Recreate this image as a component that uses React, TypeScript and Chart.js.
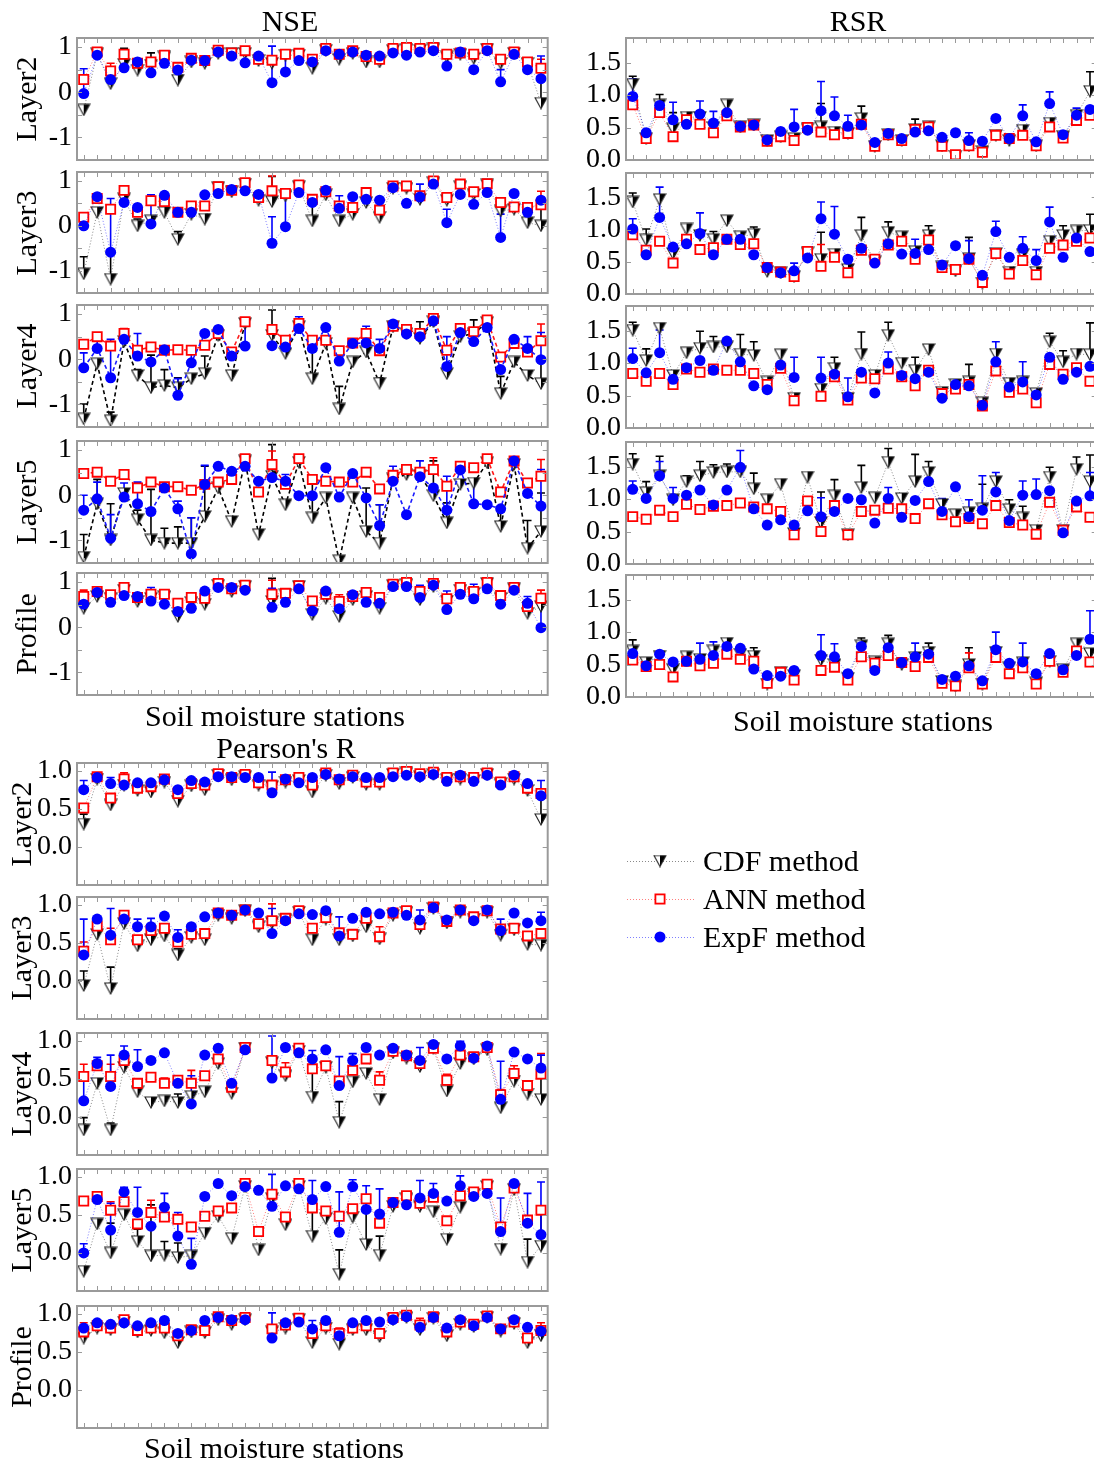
import React, { useEffect, useRef } from "react";
import { Chart, registerables } from "chart.js";
Chart.register(...registerables);

const FONT = "'Liberation Serif', 'Times New Roman', serif";
const STATION_COUNT = 35;

type V = number | null;
type Err = Record<number, number>;

// ---------------- NSE ----------------
const nseL2Cdf: V[] = [
  -0.39, 0.85, 0.19, 0.62, 0.49, 0.6, 0.78,
  0.27, 0.67, 0.64, 0.86, 0.86, 0.86, 0.7,
  0.64, 0.82, 0.82, 0.53, 0.93, 0.73, 0.86,
  0.67, 0.67, 0.92, 0.95, 0.93, 0.96, 0.78,
  0.84, 0.75, 0.95, 0.64, 0.86, 0.64, -0.24];
const nseL2Ann: V[] = [
  0.28, 0.89, 0.47, 0.84, 0.64, 0.67, 0.82,
  0.55, 0.75, 0.7, 0.93, 0.87, 0.92, 0.73,
  0.71, 0.84, 0.86, 0.73, 0.97, 0.84, 0.92,
  0.79, 0.73, 0.97, 0.99, 0.97, 0.99, 0.84,
  0.87, 0.84, 0.97, 0.73, 0.89, 0.67, 0.53];
const nseL2Exp: V[] = [
  -0.03, 0.82, 0.28, 0.54, 0.67, 0.43, 0.64,
  0.49, 0.71, 0.7, 0.89, 0.8, 0.65, 0.8,
  0.21, 0.45, 0.7, 0.67, 0.92, 0.84, 0.89,
  0.82, 0.8, 0.87, 0.82, 0.89, 0.92, 0.58,
  0.89, 0.5, 0.92, 0.23, 0.84, 0.5, 0.3];
const nseL2CdfErr: Err = { 3: 0.35, 5: 0.27, 34: 0.5 };
const nseL2AnnErr: Err = { 2: 0.17, 12: 0.08, 34: 0.2 };
const nseL2ExpErr: Err = { 0: 0.55, 5: 0.27, 14: 0.81, 15: 0.41, 31: 0.27, 34: 0.5 };

const nseL3Cdf: V[] = [
  -1.07, 0.3, -1.19, 0.6, 0.0, 0.11, 0.3,
  -0.3, 0.26, 0.15, 0.85, 0.76, 0.93, 0.57,
  0.54, 0.67, 0.87, 0.11, 0.69, 0.11, 0.26,
  0.52, 0.19, 0.84, 0.84, 0.59, 0.96, 0.57,
  0.87, 0.7, 0.91, 0.33, 0.37, 0.07, 0.0];
const nseL3Ann: V[] = [
  0.19, 0.61, 0.37, 0.79, 0.3, 0.56, 0.54,
  0.3, 0.44, 0.44, 0.87, 0.79, 0.96, 0.63,
  0.78, 0.72, 0.91, 0.59, 0.76, 0.44, 0.41,
  0.74, 0.35, 0.89, 0.89, 0.67, 1.0, 0.63,
  0.93, 0.76, 0.94, 0.52, 0.42, 0.41, 0.47];
const nseL3Exp: V[] = [
  0.0, 0.65, -0.59, 0.52, 0.41, 0.04, 0.68,
  0.3, 0.3, 0.69, 0.72, 0.81, 0.78, 0.7,
  -0.39, -0.02, 0.74, 0.52, 0.79, 0.39, 0.65,
  0.59, 0.57, 0.85, 0.5, 0.64, 0.93, 0.07,
  0.7, 0.48, 0.74, -0.26, 0.72, 0.3, 0.57];
const nseL3CdfErr: Err = { 0: 0.38, 2: 0.6, 4: 0.15, 7: 0.17, 14: 0.56, 17: 0.52, 34: 0.5 };
const nseL3AnnErr: Err = { 14: 0.33, 34: 0.3 };
const nseL3ExpErr: Err = { 2: 1.2, 5: 0.65, 14: 0.59, 15: 0.8, 19: 0.28, 25: 0.29, 27: 0.3, 31: 0.52 };

const nseL4Cdf: V[] = [
  -1.32, -0.1, -1.36, 0.39, -0.36, -0.63, -0.58,
  -0.63, -0.43, -0.32, 0.53, -0.36, 0.79, null,
  0.53, 0.13, 0.72, -0.43, 0.35, -1.1, -0.06,
  0.16, -0.53, 0.72, 0.57, 0.46, 0.83, -0.32,
  0.5, 0.57, 0.81, -0.76, -0.06, -0.36, -0.54];
const nseL4Ann: V[] = [
  0.33, 0.5, 0.29, 0.57, 0.2, 0.27, 0.2,
  0.21, 0.2, 0.31, 0.57, 0.16, 0.83, null,
  0.66, 0.42, 0.79, 0.42, 0.42, 0.19, 0.36,
  0.57, 0.19, 0.73, 0.66, 0.57, 0.9, 0.2,
  0.68, 0.61, 0.87, 0.05, 0.35, 0.16, 0.41];
const nseL4Exp: V[] = [
  -0.19, 0.24, -0.41, 0.44, 0.07, -0.06, 0.21,
  -0.8, -0.08, 0.57, 0.66, 0.07, 0.29, null,
  0.3, 0.27, 0.68, 0.24, 0.7, -0.04, 0.35,
  0.36, 0.24, 0.78, 0.56, 0.5, 0.85, -0.16,
  0.59, 0.39, 0.7, -0.23, 0.44, 0.24, -0.01];
const nseL4CdfErr: Err = { 0: 0.33, 2: 0.19, 4: 0.13, 5: 0.72, 6: 0.35, 7: 0.22, 9: 0.39, 14: 0.56, 17: 0.6, 19: 0.5, 22: 0.12, 25: 0.37, 29: 0.3, 31: 0.38, 34: 0.55 };
const nseL4AnnErr: Err = { 3: 0.11, 34: 0.37 };
const nseL4ExpErr: Err = { 0: 0.33, 1: 0.33, 2: 0.85, 4: 0.5, 7: 0.37, 8: 0.32, 12: 0.54, 16: 0.26, 21: 0.37, 22: 0.2, 27: 0.66, 33: 0.26, 34: 0.6 };

const nseL5Cdf: V[] = [
  -1.37, -0.19, -0.99, 0.04, -0.54, -0.99, -1.06,
  -1.06, -1.06, -0.47, 0.16, -0.58, 0.76, -0.87,
  0.42, -0.21, 0.73, -0.5, -0.06, -1.45, -0.06,
  -0.8, -1.06, 0.36, 0.46, 0.44, -0.01, -0.61,
  0.24, 0.27, 0.72, -0.69, 0.68, -1.17, -0.8];
const nseL5Ann: V[] = [
  0.48, 0.51, 0.31, 0.46, 0.16, 0.29, 0.19,
  0.19, 0.11, 0.24, 0.29, 0.35, 0.81, 0.07,
  0.68, 0.24, 0.81, 0.35, 0.31, 0.29, 0.29,
  0.51, 0.14, 0.44, 0.57, 0.51, 0.57, 0.2,
  0.64, 0.61, 0.81, 0.07, 0.76, 0.27, 0.42];
const nseL5Exp: V[] = [
  -0.33, -0.08, -0.95, -0.04, -0.19, -0.36, 0.16,
  -0.3, -1.3, 0.24, 0.64, 0.53, 0.64, 0.31,
  0.39, 0.31, -0.01, -0.01, 0.61, -0.04, 0.48,
  -0.06, -0.67, 0.31, -0.43, 0.41, 0.16, -0.33,
  0.56, -0.19, -0.21, -0.3, 0.76, 0.04, -0.24];
const nseL5CdfErr: Err = { 0: 0.5, 1: 0.54, 2: 0.8, 4: 0.21, 5: 1.12, 6: 0.33, 7: 0.36, 8: 0.56, 9: 1.11, 14: 0.7, 17: 0.81, 21: 0.96, 22: 0.85, 26: 0.77, 27: 0.44, 31: 0.39, 33: 0.61, 34: 0.85 };
const nseL5AnnErr: Err = { 14: 0.3, 26: 0.26, 34: 0.37 };
const nseL5ExpErr: Err = { 0: 0.33, 1: 0.37, 2: 0.52, 3: 0.31, 4: 0.48, 7: 0.17, 8: 0.8, 9: 0.42, 15: 0.15, 22: 0.46, 23: 0.33, 25: 0.35, 27: 0.75, 29: 0.5, 34: 0.81 };

const nsePrCdf: V[] = [
  0.42, 0.68, 0.64, 0.82, 0.57, 0.64, 0.68,
  0.24, 0.55, 0.51, 0.93, 0.79, 0.9, null,
  0.57, 0.72, 0.9, 0.28, 0.64, 0.24, 0.61,
  0.68, 0.42, 0.92, 0.95, 0.61, 0.9, 0.58,
  0.82, 0.75, 0.97, 0.64, 0.85, 0.31, 0.46];
const nsePrAnn: V[] = [
  0.68, 0.79, 0.72, 0.88, 0.66, 0.73, 0.73,
  0.53, 0.66, 0.64, 0.97, 0.85, 0.93, null,
  0.73, 0.75, 0.92, 0.58, 0.73, 0.57, 0.68,
  0.77, 0.66, 0.95, 0.99, 0.79, 0.97, 0.63,
  0.88, 0.79, 0.99, 0.7, 0.88, 0.46, 0.64];
const nsePrExp: V[] = [
  0.51, 0.77, 0.55, 0.7, 0.68, 0.58, 0.51,
  0.35, 0.42, 0.8, 0.88, 0.88, 0.82, null,
  0.44, 0.55, 0.85, 0.36, 0.8, 0.41, 0.72,
  0.55, 0.53, 0.9, 0.9, 0.66, 0.93, 0.39,
  0.73, 0.63, 0.85, 0.51, 0.82, 0.53, -0.01];
const nsePrCdfErr: Err = { 14: 0.51 };
const nsePrAnnErr: Err = { 0: 0.14, 14: 0.31, 19: 0.15, 34: 0.18 };
const nsePrExpErr: Err = { 5: 0.3, 14: 0.42, 21: 0.31, 25: 0.27, 27: 0.41, 29: 0.32, 33: 0.15, 34: 0.65 };

// ---------------- RSR ----------------
const rsrL2Cdf: V[] = [
  1.17, 0.33, 0.85, 0.48, 0.66, 0.66, 0.5,
  0.85, 0.51, 0.54, 0.3, 0.36, 0.33, 0.48,
  0.51, 0.43, 0.41, 0.64, 0.21, 0.39, 0.3,
  0.47, 0.51, 0.22, 0.06, 0.22, 0.13, 0.38,
  0.3, 0.46, 0.22, 0.57, 0.36, 0.69, 1.06];
const rsrL2Ann: V[] = [
  0.85, 0.33, 0.73, 0.36, 0.62, 0.55, 0.42,
  0.68, 0.51, 0.54, 0.29, 0.36, 0.3, 0.5,
  0.43, 0.39, 0.41, 0.55, 0.21, 0.39, 0.3,
  0.47, 0.51, 0.21, 0.08, 0.22, 0.12, 0.38,
  0.33, 0.38, 0.22, 0.51, 0.34, 0.61, 0.69];
const rsrL2Exp: V[] = [
  0.98, 0.42, 0.84, 0.62, 0.55, 0.71, 0.57,
  0.73, 0.52, 0.54, 0.31, 0.44, 0.51, 0.46,
  0.76, 0.68, 0.52, 0.54, 0.27, 0.41, 0.33,
  0.43, 0.45, 0.35, 0.42, 0.3, 0.29, 0.64,
  0.33, 0.68, 0.28, 0.87, 0.39, 0.69, 0.78];
const rsrL2CdfErr: Err = { 0: 0.12, 2: 0.16, 3: 0.25, 14: 0.36, 17: 0.19, 21: 0.16, 29: 0.05, 34: 0.3 };
const rsrL2AnnErr: Err = {};
const rsrL2ExpErr: Err = { 0: 0.27, 3: 0.27, 5: 0.2, 6: 0.18, 12: 0.27, 14: 0.45, 15: 0.29, 16: 0.17, 25: 0.12, 29: 0.17, 31: 0.18, 33: 0.11 };

const rsrL3Cdf: V[] = [
  1.43, 0.84, 1.47, 0.63, 1.01, 0.91, 0.85,
  1.14, 0.89, 0.93, 0.35, 0.33, 0.27, 0.64,
  0.54, 0.62, 0.38, 0.91, 0.5, 0.96, 0.89,
  0.66, 0.91, 0.42, 0.36, 0.55, 0.17, 0.63,
  0.34, 0.61, 0.34, 0.82, 0.91, 0.98, 0.99];
const rsrL3Ann: V[] = [
  0.92, 0.68, 0.82, 0.48, 0.85, 0.69, 0.72,
  0.85, 0.77, 0.78, 0.41, 0.34, 0.27, 0.66,
  0.43, 0.57, 0.33, 0.68, 0.54, 0.76, 0.82,
  0.54, 0.84, 0.41, 0.38, 0.54, 0.18, 0.63,
  0.31, 0.52, 0.3, 0.71, 0.76, 0.82, 0.87];
const rsrL3Exp: V[] = [
  1.01, 0.61, 1.19, 0.73, 0.78, 0.94, 0.61,
  0.85, 0.85, 0.61, 0.41, 0.33, 0.36, 0.56,
  1.17, 0.93, 0.54, 0.71, 0.48, 0.78, 0.62,
  0.63, 0.69, 0.45, 0.75, 0.55, 0.29, 0.97,
  0.57, 0.71, 0.52, 1.12, 0.57, 0.87, 0.66];
const rsrL3CdfErr: Err = { 0: 0.14, 1: 0.17, 6: 0.12, 9: 0.11, 14: 0.42, 17: 0.28, 19: 0.16, 22: 0.15, 25: 0.33, 32: 0.15, 34: 0.25 };
const rsrL3AnnErr: Err = { 14: 0.34, 32: 0.22 };
const rsrL3ExpErr: Err = { 0: 0.16, 2: 0.47, 5: 0.32, 12: 0.12, 14: 0.26, 15: 0.43, 21: 0.22, 25: 0.28, 27: 0.16, 29: 0.18, 30: 0.17, 31: 0.23 };

const rsrL4Cdf: V[] = [
  1.51, 1.04, 1.54, 0.81, 1.16, 1.23, 1.25,
  1.25, 1.14, 1.12, 0.71, 1.13, 0.46, null,
  0.6, 0.92, 0.46, 1.14, 0.81, 1.43, 1.0,
  0.89, 1.21, 0.55, 0.67, 0.71, 0.39, 1.14,
  0.69, 0.71, 0.53, 1.33, 1.02, 1.14, 1.13];
const rsrL4Ann: V[] = [
  0.84, 0.72, 0.84, 0.67, 0.91, 0.86, 0.91,
  0.89, 0.89, 0.84, 0.67, 0.92, 0.42, null,
  0.49, 0.79, 0.43, 0.77, 0.76, 0.91, 0.79,
  0.65, 0.89, 0.53, 0.6, 0.67, 0.34, 0.88,
  0.55, 0.6, 0.39, 0.98, 0.83, 0.93, 0.72];
const rsrL4Exp: V[] = [
  1.07, 0.85, 1.16, 0.75, 0.93, 1.04, 0.89,
  1.34, 1.02, 0.65, 0.59, 0.97, 0.78, null,
  0.77, 0.83, 0.48, 0.86, 0.54, 1.0, 0.81,
  0.76, 0.86, 0.46, 0.67, 0.65, 0.35, 1.02,
  0.63, 0.71, 0.51, 1.09, 0.75, 0.86, 0.95];
const rsrL4CdfErr: Err = { 0: 0.12, 1: 0.18, 5: 0.26, 6: 0.16, 8: 0.3, 9: 0.21, 15: 0.17, 17: 0.34, 19: 0.2, 21: 0.2, 25: 0.27, 31: 0.13, 32: 0.17, 34: 0.49 };
const rsrL4AnnErr: Err = {};
const rsrL4ExpErr: Err = { 0: 0.16, 2: 0.35, 12: 0.31, 14: 0.32, 16: 0.29, 19: 0.17, 27: 0.31, 29: 0.31 };

const rsrL5Cdf: V[] = [
  1.54, 1.1, 1.36, 0.99, 1.27, 1.36, 1.41,
  1.42, 1.42, 1.16, 0.99, 1.23, 0.47, 1.34,
  0.64, 1.05, 0.45, 1.18, 1.02, 1.57, 1.01,
  1.27, 1.41, 0.92, 0.76, 0.79, 0.85, 1.27,
  0.84, 0.71, 0.52, 1.34, 0.52, 1.46, 1.27];
const rsrL5Ann: V[] = [
  0.73, 0.69, 0.83, 0.73, 0.92, 0.84, 0.89,
  0.9, 0.94, 0.88, 0.85, 0.81, 0.45, 0.97,
  0.5, 0.9, 0.45, 0.81, 0.83, 0.86, 0.85,
  0.7, 0.93, 0.76, 0.65, 0.7, 0.62, 0.9,
  0.64, 0.6, 0.46, 0.95, 0.52, 0.88, 0.72];
const rsrL5Exp: V[] = [
  1.15, 1.01, 1.36, 1.01, 1.06, 1.14, 0.91,
  1.14, 1.49, 0.85, 0.6, 0.68, 0.6, 0.82,
  0.73, 0.81, 1.01, 0.99, 0.63, 1.01, 0.72,
  0.98, 1.27, 0.81, 1.19, 0.73, 0.83, 1.11,
  0.67, 1.06, 1.07, 1.13, 0.48, 0.97, 1.05];
const rsrL5CdfErr: Err = { 0: 0.16, 1: 0.17, 2: 0.3, 4: 0.09, 5: 0.22, 6: 0.12, 7: 0.12, 9: 0.24, 14: 0.47, 15: 0.25, 17: 0.34, 19: 0.21, 21: 0.42, 22: 0.17, 26: 0.38, 28: 0.15, 29: 0.18, 31: 0.15, 33: 0.19, 34: 0.41 };
const rsrL5AnnErr: Err = {};
const rsrL5ExpErr: Err = { 0: 0.13, 2: 0.22, 3: 0.17, 8: 0.26, 14: 0.29, 19: 0.17, 23: 0.2, 25: 0.26, 26: 0.53, 27: 0.3, 29: 0.22, 30: 0.24, 34: 0.36 };

const rsrPrCdf: V[] = [
  0.71, 0.53, 0.63, 0.42, 0.62, 0.58, 0.71,
  0.83, 0.66, 0.63, 0.2, 0.38, 0.33, null,
  0.57, 0.5, 0.29, 0.79, 0.54, 0.82, 0.5,
  0.61, 0.69, 0.24, 0.17, 0.5, 0.2, 0.69,
  0.45, 0.53, 0.22, 0.55, 0.42, 0.82, 0.67];
const rsrPrAnn: V[] = [
  0.57, 0.47, 0.5, 0.31, 0.55, 0.48, 0.52,
  0.66, 0.58, 0.55, 0.21, 0.38, 0.26, null,
  0.41, 0.46, 0.26, 0.62, 0.52, 0.64, 0.53,
  0.47, 0.61, 0.21, 0.17, 0.45, 0.2, 0.61,
  0.36, 0.45, 0.2, 0.55, 0.38, 0.71, 0.54];
const rsrPrExp: V[] = [
  0.67, 0.48, 0.66, 0.54, 0.55, 0.58, 0.64,
  0.78, 0.75, 0.43, 0.33, 0.32, 0.41, null,
  0.64, 0.62, 0.36, 0.78, 0.41, 0.76, 0.53,
  0.62, 0.66, 0.27, 0.32, 0.48, 0.25, 0.73,
  0.52, 0.54, 0.36, 0.67, 0.42, 0.64, 0.89];
const rsrPrCdfErr: Err = { 0: 0.17, 9: 0.13, 17: 0.12, 19: 0.13, 22: 0.14, 25: 0.26 };
const rsrPrAnnErr: Err = { 25: 0.23 };
const rsrPrExpErr: Err = { 5: 0.25, 6: 0.21, 14: 0.32, 15: 0.2, 21: 0.21, 27: 0.27, 29: 0.29, 34: 0.44 };

// ---------------- Pearson's R ----------------
const rL2Cdf: V[] = [
  0.3, 0.89, 0.55, 0.81, 0.74, 0.72, 0.85,
  0.6, 0.8, 0.75, 0.94, 0.88, 0.92, 0.81,
  0.79, 0.85, 0.87, 0.72, 0.94, 0.83, 0.91,
  0.82, 0.82, 0.95, 0.97, 0.92, 0.95, 0.88,
  0.89, 0.87, 0.95, 0.83, 0.89, 0.74, 0.36];
const rL2Ann: V[] = [
  0.51, 0.92, 0.64, 0.89, 0.77, 0.79, 0.89,
  0.7, 0.83, 0.81, 0.96, 0.91, 0.95, 0.84,
  0.81, 0.88, 0.91, 0.81, 0.97, 0.88, 0.94,
  0.85, 0.85, 0.97, 0.99, 0.96, 0.98, 0.91,
  0.92, 0.91, 0.97, 0.85, 0.92, 0.77, 0.7];
const rL2Exp: V[] = [
  0.75, 0.91, 0.83, 0.81, 0.84, 0.84, 0.88,
  0.75, 0.87, 0.85, 0.92, 0.92, 0.91, 0.91,
  0.71, 0.89, 0.84, 0.91, 0.95, 0.89, 0.92,
  0.91, 0.91, 0.92, 0.94, 0.92, 0.95, 0.86,
  0.94, 0.86, 0.94, 0.81, 0.94, 0.83, 0.67];
const rL2CdfErr: Err = { 0: 0.13, 34: 0.36 };
const rL2AnnErr: Err = { 3: 0.08 };
const rL2ExpErr: Err = { 0: 0.12, 2: 0.08, 14: 0.27, 34: 0.2 };

const rL3Cdf: V[] = [
  -0.06, 0.61, -0.1, 0.75, 0.46, 0.54, 0.59,
  0.34, 0.57, 0.54, 0.86, 0.82, 0.92, 0.71,
  0.76, 0.8, 0.9, 0.54, 0.81, 0.54, 0.59,
  0.71, 0.55, 0.86, 0.9, 0.69, 0.95, 0.76,
  0.9, 0.81, 0.9, 0.6, 0.67, 0.48, 0.47];
const rL3Ann: V[] = [
  0.39, 0.72, 0.54, 0.86, 0.54, 0.66, 0.69,
  0.51, 0.61, 0.62, 0.89, 0.86, 0.93, 0.75,
  0.79, 0.82, 0.92, 0.69, 0.83, 0.63, 0.61,
  0.82, 0.58, 0.89, 0.92, 0.74, 0.97, 0.78,
  0.93, 0.84, 0.92, 0.68, 0.69, 0.59, 0.62];
const rL3Exp: V[] = [
  0.34, 0.81, 0.6, 0.81, 0.71, 0.71, 0.85,
  0.57, 0.71, 0.84, 0.89, 0.86, 0.93, 0.89,
  0.62, 0.79, 0.88, 0.87, 0.92, 0.59, 0.82,
  0.9, 0.88, 0.9, 0.86, 0.8, 0.96, 0.8,
  0.93, 0.79, 0.93, 0.66, 0.89, 0.76, 0.79];
const rL3CdfErr: Err = { 0: 0.19, 2: 0.28, 7: 0.08 };
const rL3AnnErr: Err = { 0: 0.12, 2: 0.15, 14: 0.22, 22: 0.13 };
const rL3ExpErr: Err = { 0: 0.47, 2: 0.35, 4: 0.1, 5: 0.11, 7: 0.1, 14: 0.33, 19: 0.25, 25: 0.13, 31: 0.15, 34: 0.11 };

const rL4Cdf: V[] = [
  -0.17, 0.44, -0.17, 0.65, 0.33, 0.19, 0.21,
  0.19, 0.27, 0.33, 0.7, 0.31, 0.9, null,
  0.71, 0.54, 0.86, 0.26, 0.65, -0.07, 0.46,
  0.57, 0.23, 0.84, 0.77, 0.66, 0.9, 0.34,
  0.7, 0.76, 0.88, 0.12, 0.47, 0.3, 0.23];
const rL4Ann: V[] = [
  0.53, 0.67, 0.53, 0.74, 0.44, 0.52, 0.44,
  0.48, 0.44, 0.54, 0.76, 0.39, 0.91, null,
  0.74, 0.59, 0.9, 0.63, 0.67, 0.47, 0.61,
  0.76, 0.48, 0.86, 0.8, 0.7, 0.9, 0.48,
  0.81, 0.79, 0.91, 0.29, 0.57, 0.41, 0.56];
const rL4Exp: V[] = [
  0.21, 0.7, 0.4, 0.81, 0.66, 0.74, 0.84,
  0.44, 0.17, 0.81, 0.9, 0.44, 0.88, null,
  0.51, 0.91, 0.84, 0.76, 0.88, 0.41, 0.74,
  0.91, 0.81, 0.9, 0.81, 0.74, 0.95, 0.76,
  0.93, 0.77, 0.93, 0.23, 0.85, 0.76, 0.64];
const rL4CdfErr: Err = { 0: 0.16, 2: 0.09, 7: 0.11, 17: 0.4, 19: 0.27, 34: 0.38 };
const rL4AnnErr: Err = { 0: 0.16, 2: 0.16, 6: 0.07, 8: 0.17, 15: 0.12, 22: 0.11, 25: 0.08, 27: 0.08, 31: 0.07, 32: 0.1, 34: 0.27 };
const rL4ExpErr: Err = { 0: 0.32, 1: 0.08, 2: 0.41, 3: 0.12, 4: 0.22, 8: 0.37, 14: 0.55, 17: 0.11, 19: 0.38, 20: 0.09, 25: 0.17, 28: 0.06, 31: 0.5, 34: 0.17 };

const rL5Cdf: V[] = [
  -0.24, 0.38, 0.0, 0.5, 0.15, -0.04, -0.03,
  -0.06, -0.04, 0.26, 0.48, 0.19, 0.87, 0.04,
  0.71, 0.37, 0.87, 0.22, 0.45, -0.28, 0.47,
  0.11, -0.03, 0.61, 0.71, 0.61, 0.54, 0.18,
  0.6, 0.77, 0.87, 0.05, 0.83, -0.12, 0.09];
const rL5Ann: V[] = [
  0.68, 0.74, 0.56, 0.67, 0.38, 0.53, 0.47,
  0.44, 0.34, 0.48, 0.55, 0.59, 0.91, 0.28,
  0.77, 0.47, 0.91, 0.59, 0.55, 0.48, 0.58,
  0.71, 0.39, 0.66, 0.75, 0.65, 0.73, 0.42,
  0.75, 0.8, 0.9, 0.34, 0.85, 0.43, 0.56];
const rL5Exp: V[] = [
  0.0, 0.7, 0.3, 0.8, 0.53, 0.35, 0.6,
  0.22, -0.15, 0.74, 0.91, 0.75, 0.87, 0.82,
  0.61, 0.88, 0.84, 0.7, 0.87, 0.27, 0.87,
  0.57, 0.51, 0.66, 0.63, 0.72, 0.78, 0.68,
  0.88, 0.74, 0.78, 0.28, 0.91, 0.39, 0.24];
const rL5CdfErr: Err = { 2: 0.39, 4: 0.16, 5: 0.67, 6: 0.18, 7: 0.19, 17: 0.37, 19: 0.32, 21: 0.62, 22: 0.25, 33: 0.3, 34: 0.45 };
const rL5AnnErr: Err = { 2: 0.11, 5: 0.16 };
const rL5ExpErr: Err = { 0: 0.12, 2: 0.35, 3: 0.06, 4: 0.33, 6: 0.18, 7: 0.31, 8: 0.34, 14: 0.42, 17: 0.25, 19: 0.53, 20: 0.09, 21: 0.31, 22: 0.33, 25: 0.23, 26: 0.13, 28: 0.13, 31: 0.44, 33: 0.39, 34: 0.69 };

const rPrCdf: V[] = [
  0.68, 0.81, 0.79, 0.89, 0.76, 0.78, 0.75,
  0.62, 0.76, 0.75, 0.92, 0.86, 0.92, null,
  0.76, 0.81, 0.92, 0.62, 0.81, 0.6, 0.79,
  0.79, 0.7, 0.92, 0.95, 0.79, 0.94, 0.71,
  0.86, 0.83, 0.95, 0.77, 0.87, 0.62, 0.71];
const rPrAnn: V[] = [
  0.76, 0.84, 0.81, 0.92, 0.78, 0.81, 0.81,
  0.71, 0.79, 0.78, 0.96, 0.91, 0.95, null,
  0.8, 0.85, 0.94, 0.74, 0.84, 0.74, 0.81,
  0.84, 0.74, 0.95, 0.98, 0.85, 0.96, 0.76,
  0.89, 0.86, 0.97, 0.8, 0.89, 0.68, 0.78];
const rPrExp: V[] = [
  0.81, 0.88, 0.86, 0.88, 0.84, 0.88, 0.91,
  0.74, 0.78, 0.91, 0.95, 0.92, 0.92, null,
  0.68, 0.88, 0.89, 0.8, 0.91, 0.71, 0.88,
  0.91, 0.89, 0.92, 0.96, 0.82, 0.95, 0.81,
  0.92, 0.84, 0.95, 0.8, 0.92, 0.82, 0.77];
const rPrCdfErr: Err = {};
const rPrAnnErr: Err = { 0: 0.12, 19: 0.07, 25: 0.09, 34: 0.1 };
const rPrExpErr: Err = { 14: 0.33, 17: 0.11 };

// tick labels
const nseTickLabels = [-1, 0, 1];
const rsrTickLabels = [0, 0.5, 1.0, 1.5];
const rTickLabels = [0, 0.5, 1.0];

// ---------------- layout ----------------
const AXW = 75;
const PADT = 26;
const PADB = 26;
const PADR = 6;

interface PanelDef {
  id: string;
  left: number; top: number; width: number; height: number;
  min: number; max: number;
  labels: number[]; minor: number[]; decimals: number;
  cdf: V[]; ann: V[]; exp: V[];
  cdfErr: Err; annErr: Err; expErr: Err;
  dashed?: boolean;
}

const NSE = { min: -1.5, max: 1.2, labels: nseTickLabels, minor: [-1, -0.5, 0, 0.5, 1], decimals: 0 };
const RSR = { min: 0, max: 1.88, labels: rsrTickLabels, minor: [0.5, 1, 1.5], decimals: 1 };
const PR = { min: -0.5, max: 1.1, labels: rTickLabels, minor: [0, 0.5, 1], decimals: 1 };

const panels: PanelDef[] = [
  { id: "nse2", left: 77, top: 38, width: 473, height: 122, ...NSE, cdf: nseL2Cdf, ann: nseL2Ann, exp: nseL2Exp, cdfErr: nseL2CdfErr, annErr: nseL2AnnErr, expErr: nseL2ExpErr },
  { id: "nse3", left: 77, top: 172, width: 473, height: 121, ...NSE, cdf: nseL3Cdf, ann: nseL3Ann, exp: nseL3Exp, cdfErr: nseL3CdfErr, annErr: nseL3AnnErr, expErr: nseL3ExpErr },
  { id: "nse4", left: 77, top: 305, width: 473, height: 122, ...NSE, cdf: nseL4Cdf, ann: nseL4Ann, exp: nseL4Exp, cdfErr: nseL4CdfErr, annErr: nseL4AnnErr, expErr: nseL4ExpErr, dashed: true },
  { id: "nse5", left: 77, top: 441, width: 473, height: 122, ...NSE, cdf: nseL5Cdf, ann: nseL5Ann, exp: nseL5Exp, cdfErr: nseL5CdfErr, annErr: nseL5AnnErr, expErr: nseL5ExpErr, dashed: true },
  { id: "nsep", left: 77, top: 573, width: 473, height: 122, ...NSE, cdf: nsePrCdf, ann: nsePrAnn, exp: nsePrExp, cdfErr: nsePrCdfErr, annErr: nsePrAnnErr, expErr: nsePrExpErr },
  { id: "rsr2", left: 626, top: 38, width: 473, height: 122, ...RSR, cdf: rsrL2Cdf, ann: rsrL2Ann, exp: rsrL2Exp, cdfErr: rsrL2CdfErr, annErr: rsrL2AnnErr, expErr: rsrL2ExpErr },
  { id: "rsr3", left: 626, top: 173, width: 473, height: 121, ...RSR, cdf: rsrL3Cdf, ann: rsrL3Ann, exp: rsrL3Exp, cdfErr: rsrL3CdfErr, annErr: rsrL3AnnErr, expErr: rsrL3ExpErr },
  { id: "rsr4", left: 626, top: 306, width: 473, height: 122, ...RSR, cdf: rsrL4Cdf, ann: rsrL4Ann, exp: rsrL4Exp, cdfErr: rsrL4CdfErr, annErr: rsrL4AnnErr, expErr: rsrL4ExpErr },
  { id: "rsr5", left: 626, top: 442, width: 473, height: 122, ...RSR, cdf: rsrL5Cdf, ann: rsrL5Ann, exp: rsrL5Exp, cdfErr: rsrL5CdfErr, annErr: rsrL5AnnErr, expErr: rsrL5ExpErr },
  { id: "rsrp", left: 626, top: 575, width: 473, height: 122, ...RSR, cdf: rsrPrCdf, ann: rsrPrAnn, exp: rsrPrExp, cdfErr: rsrPrCdfErr, annErr: rsrPrAnnErr, expErr: rsrPrExpErr },
  { id: "r2", left: 77, top: 763, width: 473, height: 122, ...PR, cdf: rL2Cdf, ann: rL2Ann, exp: rL2Exp, cdfErr: rL2CdfErr, annErr: rL2AnnErr, expErr: rL2ExpErr },
  { id: "r3", left: 77, top: 897, width: 473, height: 122, ...PR, cdf: rL3Cdf, ann: rL3Ann, exp: rL3Exp, cdfErr: rL3CdfErr, annErr: rL3AnnErr, expErr: rL3ExpErr },
  { id: "r4", left: 77, top: 1033, width: 473, height: 122, ...PR, cdf: rL4Cdf, ann: rL4Ann, exp: rL4Exp, cdfErr: rL4CdfErr, annErr: rL4AnnErr, expErr: rL4ExpErr },
  { id: "r5", left: 77, top: 1169, width: 473, height: 122, ...PR, cdf: rL5Cdf, ann: rL5Ann, exp: rL5Exp, cdfErr: rL5CdfErr, annErr: rL5AnnErr, expErr: rL5ExpErr },
  { id: "rp", left: 77, top: 1306, width: 473, height: 122, ...PR, cdf: rPrCdf, ann: rPrAnn, exp: rPrExp, cdfErr: rPrCdfErr, annErr: rPrAnnErr, expErr: rPrExpErr },
];

function makeTriangle(): HTMLCanvasElement {
  const c = document.createElement("canvas");
  c.width = 14;
  c.height = 13;
  const g = c.getContext("2d")!;
  const path = () => {
    g.beginPath();
    g.moveTo(1, 1);
    g.lineTo(13, 1);
    g.lineTo(7, 12);
    g.closePath();
  };
  path();
  g.fillStyle = "#ffffff";
  g.fill();
  g.beginPath();
  g.moveTo(7, 1);
  g.lineTo(13, 1);
  g.lineTo(7, 12);
  g.closePath();
  g.fillStyle = "#000000";
  g.fill();
  path();
  g.strokeStyle = "#222222";
  g.lineWidth = 1.1;
  g.stroke();
  return c;
}

const errPlugin = {
  id: "errbars",
  beforeDatasetsDraw(chart: any, _args: any, opts: any) {
    const { ctx, chartArea } = chart;
    const xs = chart.scales.x;
    const ys = chart.scales.y;
    ctx.save();
    ctx.beginPath();
    ctx.rect(chartArea.left, chartArea.top, chartArea.right - chartArea.left, chartArea.bottom - chartArea.top);
    ctx.clip();
    for (const s of opts.series || []) {
      ctx.strokeStyle = s.color;
      ctx.lineWidth = 1.6;
      for (const k of Object.keys(s.errs)) {
        const i = Number(k);
        const v = s.vals[i];
        if (v === null || v === undefined) continue;
        const e = s.errs[k];
        const x = xs.getPixelForValue(i);
        const y0 = ys.getPixelForValue(v);
        const y1 = ys.getPixelForValue(v + e);
        ctx.beginPath();
        ctx.moveTo(x, y0);
        ctx.lineTo(x, y1);
        ctx.moveTo(x - 4, y1);
        ctx.lineTo(x + 4, y1);
        ctx.stroke();
      }
    }
    ctx.restore();
  },
};

const framePlugin = {
  id: "frame",
  afterDatasetsDraw(chart: any, _args: any, opts: any) {
    const { ctx, chartArea } = chart;
    const { left, right, top, bottom } = chartArea;
    const xs = chart.scales.x;
    const ys = chart.scales.y;
    ctx.save();
    ctx.strokeStyle = "#9a9a9a";
    ctx.lineWidth = 1;
    const tl = 5;
    ctx.beginPath();
    for (let i = 0; i < STATION_COUNT; i++) {
      const x = Math.round(xs.getPixelForValue(i)) + 0.5;
      ctx.moveTo(x, bottom);
      ctx.lineTo(x, bottom - tl);
      ctx.moveTo(x, top);
      ctx.lineTo(x, top + tl);
    }
    for (const v of opts.minor || []) {
      const y = Math.round(ys.getPixelForValue(v)) + 0.5;
      ctx.moveTo(left, y);
      ctx.lineTo(left + tl, y);
      ctx.moveTo(right, y);
      ctx.lineTo(right - tl, y);
    }
    ctx.stroke();
    ctx.lineWidth = 2;
    ctx.strokeStyle = "#9a9a9a";
    ctx.strokeRect(left, top, right - left, bottom - top);
    ctx.restore();
  },
};

function PanelChart({ p }: { p: PanelDef }) {
  const ref = useRef<HTMLCanvasElement>(null);
  useEffect(() => {
    const tri = makeTriangle();
    const pts = (arr: V[]) => arr.map((v, i) => ({ x: i, y: v }));
    const ls = p.dashed
      ? { borderWidth: 1.6, borderDash: [4, 3] }
      : { borderWidth: 1, borderDash: [1, 2] };
    const chart = new Chart(ref.current!, {
      type: "line",
      data: {
        datasets: [
          {
            label: "ExpF method",
            data: pts(p.exp),
            order: 1,
            borderColor: p.dashed ? "#1a1aff" : "rgba(40,40,255,0.6)",
            pointStyle: "circle",
            pointRadius: 5.5,
            pointBackgroundColor: "#0000ff",
            pointBorderColor: "#0000ff",
            pointBorderWidth: 0,
            spanGaps: false,
            ...ls,
          },
          {
            label: "ANN method",
            data: pts(p.ann),
            order: 2,
            borderColor: p.dashed ? "#ff1a1a" : "rgba(255,40,40,0.6)",
            pointStyle: "rect",
            pointRadius: 6.5,
            pointBackgroundColor: "#ffffff",
            pointBorderColor: "#ff0000",
            pointBorderWidth: 1.8,
            spanGaps: false,
            ...ls,
          },
          {
            label: "CDF method",
            data: pts(p.cdf),
            order: 3,
            borderColor: p.dashed ? "#000000" : "rgba(60,60,60,0.6)",
            pointStyle: tri,
            pointRadius: 6,
            spanGaps: false,
            ...ls,
          },
        ],
      } as any,
      options: {
        animation: false,
        responsive: false,
        events: [],
        layout: { padding: { left: 0, right: PADR, top: PADT, bottom: PADB } },
        scales: {
          x: { type: "linear", display: false, min: -0.5, max: 34.5 },
          y: {
            type: "linear",
            min: p.min,
            max: p.max,
            afterFit: (s: any) => { s.width = AXW; },
            afterBuildTicks: (s: any) => { s.ticks = p.labels.map((v) => ({ value: v })); },
            grid: { display: false, drawTicks: false },
            border: { display: false },
            ticks: {
              padding: 5,
              color: "#000000",
              font: { family: FONT, size: 28, lineHeight: 1 },
              callback: (v: any) => Number(v).toFixed(p.decimals),
            },
          },
        },
        plugins: {
          legend: { display: false },
          tooltip: { enabled: false },
          errbars: {
            series: [
              { vals: p.cdf, errs: p.cdfErr, color: "#000000" },
              { vals: p.ann, errs: p.annErr, color: "#ff0000" },
              { vals: p.exp, errs: p.expErr, color: "#0000ff" },
            ],
          },
          frame: { minor: p.minor },
        },
      } as any,
      plugins: [errPlugin, framePlugin],
    });
    return () => chart.destroy();
  }, [p]);
  return (
    <canvas
      ref={ref}
      width={p.width + AXW + PADR}
      height={p.height + PADT + PADB}
      style={{ position: "absolute", left: p.left - AXW, top: p.top - PADT }}
    />
  );
}

function Legend() {
  const ref = useRef<HTMLCanvasElement>(null);
  useEffect(() => {
    const c = ref.current!;
    const g = c.getContext("2d")!;
    g.clearRect(0, 0, c.width, c.height);
    const rows = [21, 59, 97];
    const colors = ["rgba(60,60,60,0.6)", "rgba(255,40,40,0.6)", "rgba(40,40,255,0.6)"];
    g.setLineDash([1, 2]);
    g.lineWidth = 1;
    rows.forEach((y, i) => {
      g.strokeStyle = colors[i];
      g.beginPath();
      g.moveTo(7, y + 0.5);
      g.lineTo(75, y + 0.5);
      g.stroke();
    });
    g.setLineDash([]);
    const tri = makeTriangle();
    g.drawImage(tri, 40 - 7, rows[0] - 6.5);
    g.fillStyle = "#ffffff";
    g.fillRect(35.4, rows[1] - 4.6, 9.2, 9.2);
    g.strokeStyle = "#ff0000";
    g.lineWidth = 1.8;
    g.strokeRect(35.4, rows[1] - 4.6, 9.2, 9.2);
    g.fillStyle = "#0000ff";
    g.beginPath();
    g.arc(40, rows[2], 5.5, 0, Math.PI * 2);
    g.fill();
  }, []);
  return <canvas ref={ref} width={90} height={120} style={{ position: "absolute", left: 620, top: 840 }} />;
}

function Label({ x, y, text, size = 30, rotate = false, align = "center" }: { x: number; y: number; text: string; size?: number; rotate?: boolean; align?: string }) {
  const t = align === "left" ? "translate(0,-50%)" : "translate(-50%,-50%)" + (rotate ? " rotate(-90deg)" : "");
  return (
    <div
      style={{
        position: "absolute",
        left: x,
        top: y,
        transform: t,
        fontFamily: FONT,
        fontSize: size,
        lineHeight: 1,
        whiteSpace: "nowrap",
        color: "#000",
      }}
    >
      {text}
    </div>
  );
}

export default function App() {
  const layerNames = ["Layer2", "Layer3", "Layer4", "Layer5", "Profile"];
  return (
    <div style={{ position: "absolute", left: 0, top: 0, width: 1094, height: 1462, overflow: "hidden", background: "#fff" }}>
      {panels.map((p) => (
        <PanelChart key={p.id} p={p} />
      ))}
      <Label x={290} y={21} text="NSE" />
      <Label x={858} y={21} text="RSR" />
      <Label x={275} y={716} text="Soil moisture stations" />
      <Label x={863} y={721} text="Soil moisture stations" />
      <Label x={286} y={748} text="Pearson's R" />
      <Label x={274} y={1448} text="Soil moisture stations" />
      {panels.slice(0, 5).map((p, i) => (
        <Label key={"ln" + i} x={26} y={p.top + p.height / 2} text={layerNames[i]} size={30} rotate />
      ))}
      {panels.slice(10, 15).map((p, i) => (
        <Label key={"lr" + i} x={21} y={p.top + p.height / 2} text={layerNames[i]} size={30} rotate />
      ))}
      <Legend />
      <Label x={703} y={861} text="CDF method" align="left" />
      <Label x={703} y={899} text="ANN method" align="left" />
      <Label x={703} y={937} text="ExpF method" align="left" />
    </div>
  );
}
